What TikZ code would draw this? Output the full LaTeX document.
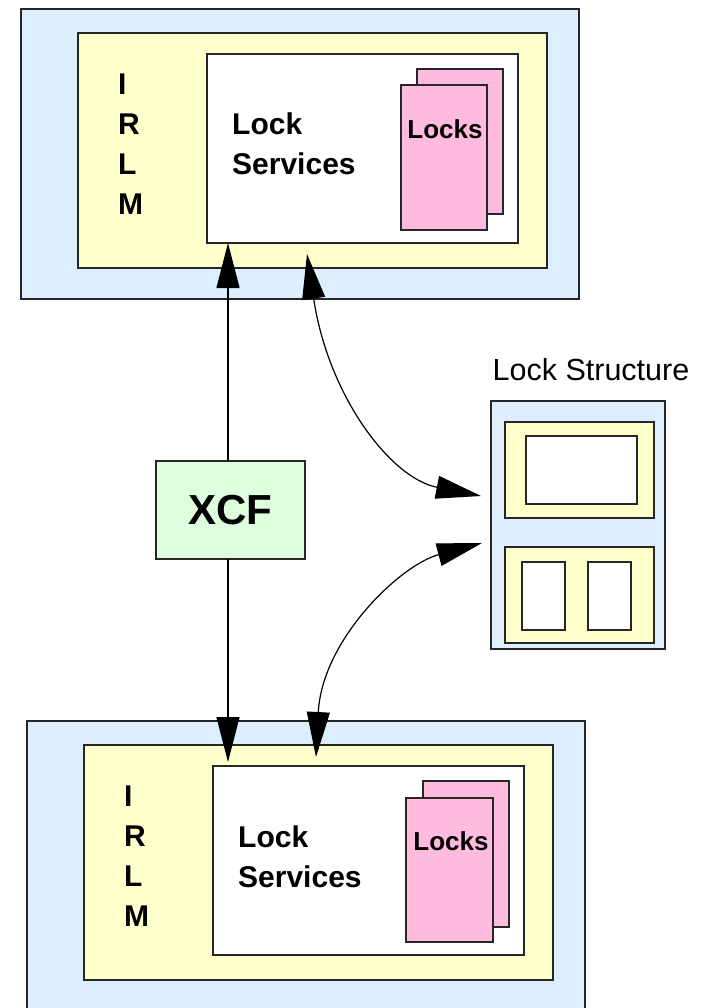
\documentclass[tikz,border=0pt]{standalone}
\usepackage{fontspec}
\setmainfont{Liberation Sans}
\usetikzlibrary{arrows.meta}
\definecolor{lblue}{HTML}{DDEEFF}
\definecolor{lyellow}{HTML}{FFFFCC}
\definecolor{lpink}{HTML}{FFBBDD}
\definecolor{lgreen}{HTML}{DDFFDD}
\begin{document}
\begin{tikzpicture}[x=1pt,y=-1pt,
  box/.style={draw=black!85, line width=1.5pt, inner sep=0pt, outer sep=0pt, anchor=north west},
  big/.style={font=\bfseries\fontsize{30}{40}\selectfont, inner sep=0pt},
  lockstxt/.style={font=\bfseries\fontsize{26}{30}\selectfont, inner sep=0pt},
  conn/.style={line width=1.2pt, >={Triangle[length=45pt,width=23pt]}}]
\useasboundingbox (0,0) rectangle (711,1008);
% top system
\node[box, fill=lblue, minimum width=558pt, minimum height=290pt] (outer1) at (21,9) {};
\node[box, fill=lyellow, minimum width=469pt, minimum height=235pt] (irlm1) at (78,33) {};
\node[box, fill=white, minimum width=311pt, minimum height=189pt] (ls1) at (207,54) {};
\node[box, fill=lpink, minimum width=86pt, minimum height=145pt] (lkb1) at (417,69) {};
\node[box, fill=lpink, minimum width=86pt, minimum height=145pt] (lkf1) at (401,85) {};
\node[lockstxt] (lkt1) at (445,129) {Locks};
\node[big, align=left, anchor=west] (lst1) at (232,144) {Lock\\Services};
\node[big, align=left, anchor=north west] (ir1) at (118,74) {I\\R\\L\\M};
% XCF
\node[box, fill=lgreen, minimum width=149pt, minimum height=98pt, font=\bfseries\fontsize{42}{46}\selectfont] (xcf) at (156,461) {XCF};
% lock structure
\node[font=\fontsize{30.5}{34}\selectfont, inner sep=0pt] (lslabel) at (591,370) {Lock Structure};
\node[box, fill=lblue, minimum width=174pt, minimum height=248pt] (lsbox) at (491,401) {};
\node[box, fill=lyellow, minimum width=149pt, minimum height=96pt] (lsy1) at (505,422) {};
\node[box, fill=white, minimum width=111pt, minimum height=68pt] (lsw1) at (526,436) {};
\node[box, fill=lyellow, minimum width=149pt, minimum height=96pt] (lsy2) at (505,547) {};
\node[box, fill=white, minimum width=43pt, minimum height=68pt] (lsw2) at (522,562) {};
\node[box, fill=white, minimum width=43pt, minimum height=68pt] (lsw3) at (588,562) {};
% bottom system
\node[box, fill=lblue, minimum width=558pt, minimum height=310pt] (outer2) at (27,721) {};
\node[box, fill=lyellow, minimum width=469pt, minimum height=235pt] (irlm2) at (84,745) {};
\node[box, fill=white, minimum width=311pt, minimum height=189pt] (ls2) at (213,766) {};
\node[box, fill=lpink, minimum width=86pt, minimum height=146pt] (lkb2) at (423,781) {};
\node[box, fill=lpink, minimum width=87pt, minimum height=144pt] (lkf2) at (406,798) {};
\node[lockstxt] (lkt2) at (451,841) {Locks};
\node[big, align=left, anchor=west] (lst2) at (238,857) {Lock\\Services};
\node[big, align=left, anchor=north west] (ir2) at (124,786) {I\\R\\L\\M};
% connectors
\coordinate (p1) at (307,254);
\coordinate (p2) at (481,496);
\coordinate (p3) at (482,543);
\coordinate (p4) at (316,757);
\draw[conn,->] ([xshift=-2.5pt]xcf.north) -- ([xshift=-2.5pt]xcf.north |- ls1.south);
\draw[conn,->] ([xshift=-2.5pt]xcf.south) -- ([xshift=-2.5pt,yshift=4pt]xcf.south |- ls2.north);
\draw[conn,<->] (p1) .. controls (328,395) and (390,478) .. (p2);
\draw[conn,<->] (p3) .. controls (400,565) and (322,640) .. (p4);
\end{tikzpicture}
\end{document}
